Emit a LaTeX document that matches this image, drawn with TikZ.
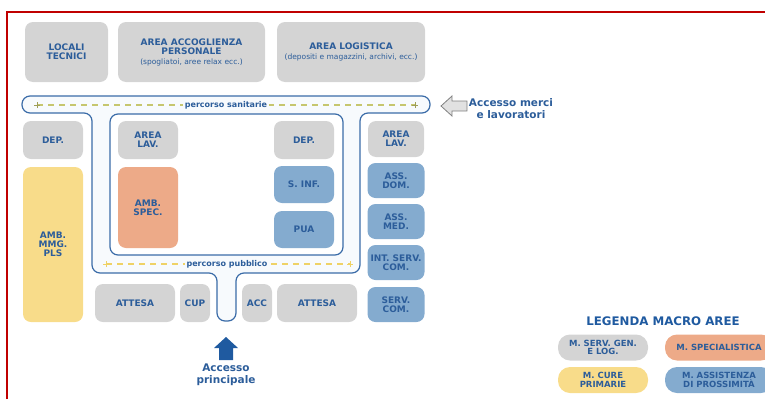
\documentclass[tikz,border=0pt]{standalone}
\usepackage{fontspec}
\setmainfont{DejaVu Sans}
\definecolor{testo}{HTML}{2C5D9A}
\definecolor{grigio}{HTML}{D4D4D4}
\definecolor{giallo}{HTML}{F8DC8A}
\definecolor{arancio}{HTML}{EDAA88}
\definecolor{azzurro}{HTML}{84ABCF}
\definecolor{linea}{HTML}{3B6CA8}
\definecolor{corridoio}{HTML}{F7FAFD}
\definecolor{verde}{HTML}{C6C66E}
\definecolor{oro}{HTML}{EFD266}
\definecolor{cornice}{HTML}{C00000}
\definecolor{freccia}{HTML}{1F5AA0}
\tikzset{
  area/.style={rounded corners=8pt,inner sep=1pt,align=center,text=testo,
    font=\fontsize{9}{9}\selectfont\bfseries},
  serv/.style={area,fill=grigio},
  cure/.style={area,fill=giallo},
  spec/.style={area,fill=arancio},
  pross/.style={area,fill=azzurro},
  percorso/.style={draw=linea,line width=1.2pt,rounded corners=8pt},
  etichetta/.style={fill=corridoio,inner sep=2pt,text=testo,
    font=\fontsize{8}{8}\selectfont\bfseries},
  legenda/.style={rounded corners=12pt,inner sep=1pt,align=center,text=testo,
    minimum height=26,font=\fontsize{8.5}{8.5}\selectfont\bfseries}
}
\begin{document}
\begin{tikzpicture}[x=1pt,y=-1pt]
\useasboundingbox (0,0) rectangle (765,399);
\draw[cornice,line width=1.5pt](7,399)--(7,12)--(765,12);

% servizi generali in alto
\node[serv,minimum width=83,minimum height=60](loc) at (66.5,52){LOCALI\\TECNICI};
\node[serv,minimum width=147,minimum height=60](pers) at (191.5,52)
  {AREA ACCOGLIENZA\\PERSONALE\\[1pt]{\fontsize{7.5}{8}\selectfont\mdseries (spogliatoi, aree relax ecc.)}};
\node[serv,minimum width=148,minimum height=60](logi) at (351,52)
  {AREA LOGISTICA\\[1pt]{\fontsize{7.5}{8}\selectfont\mdseries (depositi e magazzini, archivi, ecc.)}};

% percorsi
\draw[percorso,fill=corridoio](22,96)--(430,96)--(430,113)--(360,113)--(360,273)--(236,273)
  --(236,321)--(217,321)--(217,273)--(92,273)--(92,113)--(22,113)--cycle;
\draw[percorso,fill=white](110,114)rectangle(343,255);

\coordinate(sanA) at (37,105);
\coordinate(sanB) at (415,105);
\draw[verde,line width=1.3pt,dash pattern=on 6pt off 5pt](sanA)--(sanB);
\foreach \p in {sanA,sanB}
  \draw[verde!80!black,line width=1pt]([xshift=-3]\p)--([xshift=3]\p)([yshift=-3]\p)--([yshift=3]\p);
\node[etichetta](san) at (226,105){percorso sanitarie};

\coordinate(pubA) at (106,264);
\coordinate(pubB) at (350,264);
\draw[oro,line width=1.3pt,dash pattern=on 6pt off 5pt](pubA)--(pubB);
\foreach \p in {pubA,pubB}
  \draw[oro,line width=1pt]([xshift=-3]\p)--([xshift=3]\p)([yshift=-3]\p)--([yshift=3]\p);
\node[etichetta](pub) at (227,264){percorso pubblico};

% colonna sinistra
\node[serv,minimum width=60,minimum height=38](dep1) at (53,140){DEP.};
\node[cure,minimum width=60,minimum height=155](mmg) at (53,244.5){AMB.\\MMG.\\PLS};

% area interna
\node[serv,minimum width=60,minimum height=38](lav1) at (148,140){AREA\\LAV.};
\node[spec,minimum width=60,minimum height=81](amb) at (148,207.5){AMB.\\SPEC.};
\node[serv,minimum width=60,minimum height=38](dep2) at (304,140){DEP.};
\node[pross,minimum width=60,minimum height=37](inf) at (304,184.5){S. INF.};
\node[pross,minimum width=60,minimum height=37](pua) at (304,229.5){PUA};

% colonna destra
\node[serv,minimum width=56,minimum height=36](lav2) at (396,139){AREA\\LAV.};
\foreach \y/\t/\n in {180.5/{ASS.\\DOM.}/dom,221.5/{ASS.\\MED.}/med,
    262.5/{INT. SERV.\\COM.}/ints,304.5/{SERV.\\COM.}/com}
  \node[pross,minimum width=57,minimum height=35](\n) at (396,\y){\t};

% accesso principale
\node[serv,minimum width=80,minimum height=38](att1) at (135,303){ATTESA};
\node[serv,minimum width=30,minimum height=38](cup) at (195,303){CUP};
\node[serv,minimum width=30,minimum height=38](acc) at (257,303){ACC};
\node[serv,minimum width=80,minimum height=38](att2) at (317,303){ATTESA};

\fill[freccia](226,337)--(238,348)--(233,348)--(233,360)--(219,360)--(219,348)--(214,348)--cycle;
\node[text=testo,align=center,font=\fontsize{10.5}{12}\selectfont\bfseries](princ) at (226,375)
  {Accesso\\principale};

% accesso merci
\draw[draw=gray,fill=grigio!70,line width=0.8pt](441,106)--(452,96)--(452,101)--(467,101)
  --(467,111)--(452,111)--(452,116)--cycle;
\node[text=testo,align=center,font=\fontsize{10.5}{12}\selectfont\bfseries](merci) at (511,109)
  {Accesso merci\\e lavoratori};

% legenda
\node[text=freccia,font=\fontsize{11.8}{12}\selectfont\bfseries](leg) at (663,321){LEGENDA MACRO AREE};
\node[legenda,fill=grigio,minimum width=90](lg1) at (603,347.5){M. SERV. GEN.\\E LOG.};
\node[legenda,fill=arancio,minimum width=108](lg2) at (719,347.5){M. SPECIALISTICA};
\node[legenda,fill=giallo,minimum width=90](lg3) at (603,380){M. CURE\\PRIMARIE};
\node[legenda,fill=azzurro,minimum width=108](lg4) at (719,380){M. ASSISTENZA\\DI PROSSIMITÀ};
\end{tikzpicture}
\end{document}
